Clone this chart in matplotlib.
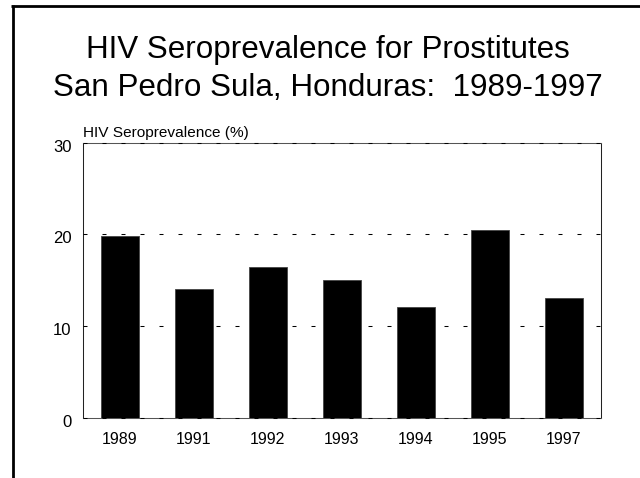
import matplotlib
matplotlib.use("Agg")
import matplotlib.pyplot as plt
import matplotlib.transforms as mtransforms
from matplotlib.lines import Line2D

plt.rcParams['font.family'] = ['Liberation Sans', 'DejaVu Sans']

years = ["1989", "1991", "1992", "1993", "1994", "1995", "1997"]
prevalence = [19.8, 14.0, 16.4, 15.0, 12.1, 20.5, 13.0]
y_ticks = [0, 10, 20, 30]

title_lines = ["HIV Seroprevalence for Prostitutes",
               "San Pedro Sula, Honduras:  1989-1997"]
y_label = "HIV Seroprevalence (%)"

W, H, DPI = 640, 478, 100
fig = plt.figure(figsize=(W / DPI, H / DPI), dpi=DPI)
fig.patch.set_facecolor("white")


def fx(px):
    return px / W


def fy(py):
    return 1 - py / H


# slide frame: top and left rules
fig.add_artist(Line2D([fx(11), fx(640)], [fy(6.2), fy(6.2)], color="black",
                      lw=2.0, transform=fig.transFigure, solid_capstyle="butt"))
fig.add_artist(Line2D([fx(12.5), fx(12.5)], [fy(5), fy(478)], color="black",
                      lw=2.0, transform=fig.transFigure, solid_capstyle="butt"))

# two-line title
fig.text(fx(328), fy(58.3), title_lines[0], ha="center", va="baseline",
         fontsize=22.6)
fig.text(fx(328), fy(96.3), title_lines[1], ha="center", va="baseline",
         fontsize=22.6)

ax = fig.add_axes([fx(82.7), fy(417.7), fx(600.7) - fx(82.7),
                   fy(142.6) - fy(417.7)])

x = list(range(len(years)))
ax.bar(x, prevalence, width=0.51, color="black", edgecolor="#444444",
       linewidth=0.6, zorder=3)

ax.set_xlim(-0.5, len(years) - 0.5)
ax.set_ylim(0, 30)
ax.set_yticks(y_ticks)
ax.set_yticklabels([str(t) for t in y_ticks], fontsize=12)
ax.set_xticks(x)
ax.set_xticklabels(years, fontsize=11.5)
ax.tick_params(axis="both", length=0)
ax.tick_params(axis="y", pad=8)
ax.tick_params(axis="x", pad=10)

# nudge y tick labels slightly downward
offset = mtransforms.ScaledTranslation(0, -3 / DPI, fig.dpi_scale_trans)
for lbl in ax.get_yticklabels():
    lbl.set_transform(lbl.get_transform() + offset)

# dashed horizontal gridlines behind the bars
for t in y_ticks:
    ax.axhline(t, color="black", lw=0.75, linestyle=(0, (3.84, 14.4)),
               zorder=1, clip_on=False)

for side in ["left", "right", "top", "bottom"]:
    ax.spines[side].set_linewidth(0.75)
    ax.spines[side].set_color("#555555")
    ax.spines[side].set_zorder(0.5)
ax.spines["left"].set_color("#222222")
ax.spines["right"].set_color("#222222")

fig.text(fx(83.3), fy(137), y_label, ha="left", va="baseline", fontsize=11.1)

fig.savefig("out.png", dpi=DPI, facecolor="white")
